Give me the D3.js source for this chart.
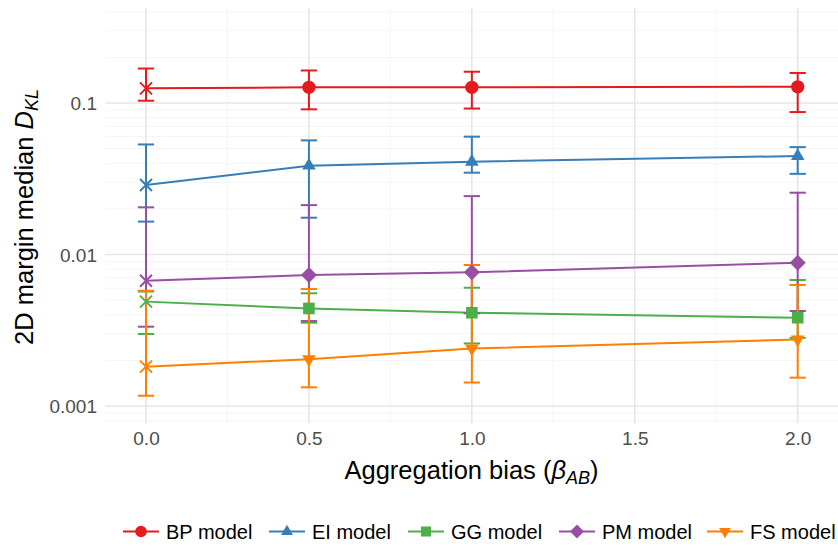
<!DOCTYPE html>
<html>
<head>
<meta charset="utf-8">
<script src="https://cdn.jsdelivr.net/npm/d3@7"></script>
<style>
  html, body { margin: 0; padding: 0; background: #fff; }
  svg { display: block; font-family: "Liberation Sans", Arial, Helvetica, sans-serif; }
</style>
</head>
<body>
<svg id="chart" width="838" height="546"></svg>
<script>
// ---- data ----
const xValues = [0, 0.5, 1.0, 2.0];
const seriesNames = ["BP model", "EI model", "GG model", "PM model", "FS model"];
const seriesColors = ["#E41A1C", "#377EB8", "#4DAF4A", "#984EA3", "#FF7F00"];
const seriesShapes = ["circle", "triangle", "square", "diamond", "triangleDown"];

const bpMedian = [0.125, 0.127, 0.127, 0.128];
const bpLow    = [0.1036, 0.0909, 0.092, 0.0872];
const bpHigh   = [0.169, 0.164, 0.161, 0.158];

const eiMedian = [0.0288, 0.0386, 0.041, 0.0447];
const eiLow    = [0.0165, 0.0175, 0.0347, 0.0341];
const eiHigh   = [0.0533, 0.0567, 0.060, 0.0512];

const ggMedian = [0.00489, 0.00441, 0.00413, 0.00383];
const ggLow    = [0.00299, 0.00355, 0.00259, 0.00282];
const ggHigh   = [0.0057, 0.00555, 0.00604, 0.00679];

const pmMedian = [0.00671, 0.00732, 0.00763, 0.00883];
const pmLow    = [0.00334, 0.00364, 0.0041, 0.00424];
const pmHigh   = [0.0205, 0.0212, 0.0243, 0.0256];

const fsMedian = [0.00182, 0.00204, 0.0024, 0.00275];
const fsLow    = [0.00117, 0.00133, 0.00143, 0.00154];
const fsHigh   = [0.00577, 0.00592, 0.00853, 0.0063];

const xTicks = [0, 0.5, 1.0, 1.5, 2.0];
const xTickLabels = ["0.0", "0.5", "1.0", "1.5", "2.0"];
const xMinor = [0.25, 0.75, 1.25, 1.75];
const yTicks = [0.001, 0.01, 0.1];
const yTickLabels = ["0.001", "0.01", "0.1"];

const medians = [bpMedian, eiMedian, ggMedian, pmMedian, fsMedian];
const lows = [bpLow, eiLow, ggLow, pmLow, fsLow];
const highs = [bpHigh, eiHigh, ggHigh, pmHigh, fsHigh];

// ---- layout ----
const svg = d3.select("#chart");
const panel = { left: 105, right: 838, top: 8, bottom: 423 };

const x = d3.scaleLinear().domain([0, 2]).range([146, 797.7]);
const y = d3.scaleLog().domain([0.000773, 0.424]).range([panel.bottom, panel.top]);

const series = seriesNames.map((name, i) => ({
  name, color: seriesColors[i], shape: seriesShapes[i],
  points: xValues.map((xv, j) => ({ x: xv, m: medians[i][j], lo: lows[i][j], hi: highs[i][j] }))
}));

// ---- gridlines ----
const grid = svg.append("g");
const yMinor = [];
for (let e = -4; e <= 0; e++) {
  for (let k = 2; k <= 9; k++) {
    const v = k * Math.pow(10, e);
    if (v >= y.domain()[0] && v <= y.domain()[1]) yMinor.push(v);
  }
}
grid.selectAll(".ymin").data(yMinor).join("line")
  .attr("x1", panel.left).attr("x2", panel.right)
  .attr("y1", d => y(d)).attr("y2", d => y(d))
  .attr("stroke", "#f2f2f2").attr("stroke-width", 0.8);
grid.selectAll(".xmin").data(xMinor).join("line")
  .attr("x1", d => x(d)).attr("x2", d => x(d))
  .attr("y1", panel.top).attr("y2", panel.bottom)
  .attr("stroke", "#f2f2f2").attr("stroke-width", 0.8);
grid.selectAll(".ymaj").data(yTicks).join("line")
  .attr("x1", panel.left).attr("x2", panel.right)
  .attr("y1", d => y(d)).attr("y2", d => y(d))
  .attr("stroke", "#e6e6e6").attr("stroke-width", 1.6);
grid.selectAll(".xmaj").data(xTicks).join("line")
  .attr("x1", d => x(d)).attr("x2", d => x(d))
  .attr("y1", panel.top).attr("y2", panel.bottom)
  .attr("stroke", "#e6e6e6").attr("stroke-width", 1.6);

// ---- axes (tick labels only) ----
const xAxis = d3.axisBottom(x).tickValues(xTicks).tickFormat((d, i) => xTickLabels[i]).tickSize(0).tickPadding(0);
const gx = svg.append("g").attr("transform", `translate(0, ${panel.bottom + 8})`).call(xAxis);
gx.select(".domain").remove();
gx.selectAll("text").attr("font-size", 19).attr("fill", "#4d4d4d")
  .attr("font-family", "Liberation Sans, Arial, sans-serif").attr("dy", "0.71em");

const yAxis = d3.axisLeft(y).tickValues(yTicks).tickFormat((d, i) => yTickLabels[i]).tickSize(0).tickPadding(0);
const gy = svg.append("g").attr("transform", `translate(97, 0)`).call(yAxis);
gy.select(".domain").remove();
gy.selectAll("text").attr("font-size", 19).attr("fill", "#4d4d4d")
  .attr("font-family", "Liberation Sans, Arial, sans-serif").attr("dy", "0.36em");

// ---- symbols ----
function symbolPath(shape, s) {
  switch (shape) {
    case "circle": return d3.symbol(d3.symbolCircle, 140 * s)();
    case "triangle": return d3.symbol(d3.symbolTriangle, 80 * s)();
    case "triangleDown": return d3.symbol(d3.symbolTriangle, 80 * s)();
    case "square": return d3.symbol(d3.symbolSquare, 135 * s)();
    case "diamond": return d3.symbol(d3.symbolSquare, 128 * s)();
  }
}
function symbolRotate(shape) {
  if (shape === "triangleDown") return 180;
  if (shape === "diamond") return 45;
  return 0;
}

// ---- lines ----
const line = d3.line().x(d => x(d.x)).y(d => y(d.m));
svg.append("g").selectAll("path").data(series).join("path")
  .attr("d", d => line(d.points))
  .attr("fill", "none").attr("stroke", d => d.color).attr("stroke-width", 2);

// ---- error bars ----
const capHalf = 0.025;
const eb = svg.append("g");
series.forEach(s => {
  const g = eb.append("g").attr("stroke", s.color).attr("stroke-width", 2).attr("fill", "none");
  g.selectAll(".v").data(s.points).join("line")
    .attr("x1", d => x(d.x)).attr("x2", d => x(d.x))
    .attr("y1", d => y(d.lo)).attr("y2", d => y(d.hi));
  g.selectAll(".t").data(s.points).join("line")
    .attr("x1", d => x(d.x - capHalf)).attr("x2", d => x(d.x + capHalf))
    .attr("y1", d => y(d.hi)).attr("y2", d => y(d.hi));
  g.selectAll(".b").data(s.points).join("line")
    .attr("x1", d => x(d.x - capHalf)).attr("x2", d => x(d.x + capHalf))
    .attr("y1", d => y(d.lo)).attr("y2", d => y(d.lo));
});

// ---- points ----
const pts = svg.append("g");
series.forEach(s => {
  s.points.forEach(p => {
    const cx = x(p.x), cy = y(p.m);
    if (p.x === 0) {
      const r = 6;
      pts.append("path")
        .attr("d", `M${cx - r},${cy - r}L${cx + r},${cy + r}M${cx - r},${cy + r}L${cx + r},${cy - r}`)
        .attr("stroke", s.color).attr("stroke-width", 2).attr("fill", "none");
    } else {
      pts.append("path")
        .attr("d", symbolPath(s.shape, 1))
        .attr("transform", `translate(${cx},${cy}) rotate(${symbolRotate(s.shape)})`)
        .attr("fill", s.color);
    }
  });
});

// ---- axis titles ----
const xt = svg.append("text")
  .attr("x", (panel.left + panel.right) / 2).attr("y", 479)
  .attr("text-anchor", "middle").attr("font-size", 25.5).attr("fill", "#000");
xt.append("tspan").text("Aggregation bias (");
xt.append("tspan").attr("font-style", "italic").text("β");
xt.append("tspan").attr("font-style", "italic").attr("font-size", 18).attr("dy", 5).text("AB");
xt.append("tspan").attr("dy", -5).text(")");

const yt = svg.append("text")
  .attr("transform", `translate(33, 217) rotate(-90)`)
  .attr("text-anchor", "middle").attr("font-size", 25.5).attr("fill", "#000");
yt.append("tspan").text("2D margin median ");
yt.append("tspan").attr("font-style", "italic").text("D");
yt.append("tspan").attr("font-style", "italic").attr("font-size", 18).attr("dy", 5).text("KL");

// ---- legend ----
const legendKeyX = [123, 269, 408, 559, 707];
const legendY = 531.5;
const lg = svg.append("g");
series.forEach((s, i) => {
  const kx = legendKeyX[i];
  const g = lg.append("g").attr("transform", `translate(${kx}, ${legendY})`);
  g.append("line").attr("x1", 0).attr("x2", 36).attr("y1", 0).attr("y2", 0)
    .attr("stroke", s.color).attr("stroke-width", 2);
  g.append("path").attr("d", symbolPath(s.shape, 0.75))
    .attr("transform", `translate(18,0) rotate(${symbolRotate(s.shape)})`)
    .attr("fill", s.color);
  g.append("text").attr("x", 43).attr("y", 0).attr("dy", "0.35em")
    .attr("font-size", 20).attr("fill", "#000").text(s.name);
});
</script>
</body>
</html>
